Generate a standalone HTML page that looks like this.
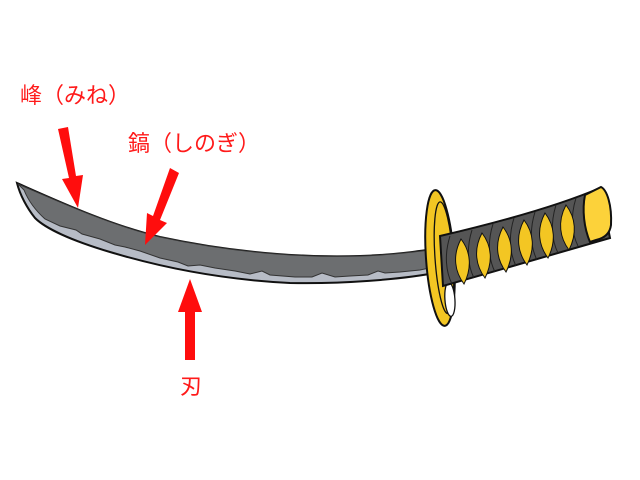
<!DOCTYPE html>
<html><head><meta charset="utf-8"><style>
html,body{margin:0;padding:0;background:#fff;width:640px;height:480px;overflow:hidden}
svg{display:block}
text{font-family:"Liberation Sans","Noto Sans CJK JP",sans-serif;fill:#ff1a1a}
</style></head><body>
<svg width="640" height="480" viewBox="0 0 640 480">
<!-- blade -->
<path d="M17,183 C60,202 110,225 160,237 C230,252 300,258 360,256 C395,255 420,251 440,248 L440,272 C400,280 340,284 290,283 C230,280 170,270 110,252 C70,240 45,228 35,218 C27,208 20,195 17,183 Z" fill="#b7bcc6" stroke="#111" stroke-width="2"/>
<path d="M18,184 C60,202 110,225 160,237 C230,252 300,258 360,256 C395,255 420,251 439,249 L439,266 L420,270 L400,272 L385,273 L378,271 L368,275 L350,276 L335,277 L322,273 L312,277 L295,277 L270,275 L262,271 L250,274 L235,271 L215,268 L200,265 L188,266 L178,262 L160,258 L140,251 L125,247 L115,245 L100,239 L82,234 L76,230 L60,226 L45,219 C35,210 28,200 24,190 Z" fill="#6c6e70" stroke="#333" stroke-width="1"/>
<!-- guard -->
<g transform="rotate(-4 440 258)">
<ellipse cx="440" cy="258" rx="14" ry="68" fill="#f3c623" stroke="#111" stroke-width="2"/>
<ellipse cx="444" cy="258" rx="9" ry="56" fill="none" stroke="#111" stroke-width="1.3"/>
<ellipse cx="447" cy="300" rx="5" ry="17" fill="#fff" stroke="#111" stroke-width="1.3"/>
</g>
<!-- handle -->
<path d="M440,236 C500,222 560,205 600,188 L610,238 C560,252 500,270 443,286 Z" fill="#555" stroke="#111" stroke-width="2"/>
<g fill="none" stroke="#222" stroke-width="1">
<path d="M450,236 C444,255 446,272 452,284"/>
<path d="M472,230 C466,249 468,266 474,278"/>
<path d="M493,224 C487,243 489,260 495,272"/>
<path d="M514,218 C508,237 510,254 516,266"/>
<path d="M535,212 C529,231 531,248 537,260"/>
<path d="M556,205 C550,224 552,241 558,253"/>
<path d="M576,198 C570,217 572,234 578,246"/>
</g>
<g fill="#f3c623" stroke="#111" stroke-width="1">
<path d="M461,239 C452,256 455,272 464,284 C472,268 471,252 461,239 Z"/>
<path d="M482,233 C473,250 476,266 485,278 C493,262 492,246 482,233 Z"/>
<path d="M503,227 C494,244 497,260 506,272 C514,256 513,240 503,227 Z"/>
<path d="M524,220 C515,237 518,253 527,265 C535,249 534,233 524,220 Z"/>
<path d="M545,213 C536,230 539,246 548,258 C556,242 555,226 545,213 Z"/>
<path d="M566,205 C557,222 560,238 569,250 C577,234 576,218 566,205 Z"/>
</g>
<path d="M585,195 L601,187 C607,190 612,205 611,225 C610,233 605,238 596,240 L590,242 C584,228 582,210 585,195 Z" fill="#fcd23a" stroke="#111" stroke-width="2"/>
<!-- arrows -->
<g fill="#ff0d0d">
<polygon points="58,129 68,127 76,176 83,175 78,208 62,179 69,178"/>
<polygon points="170,168 179,173 160,220 167,223 145,245 147,213 153,216"/>
<polygon points="185,360 195,360 195,312 202,312 190,279 178,312 185,312"/>
</g>
<text x="20" y="103" font-size="22">峰（みね）</text>
<text x="128" y="151" font-size="22">鎬（しのぎ）</text>
<text x="180" y="394" font-size="22">刃</text>
</svg>
</body></html>
